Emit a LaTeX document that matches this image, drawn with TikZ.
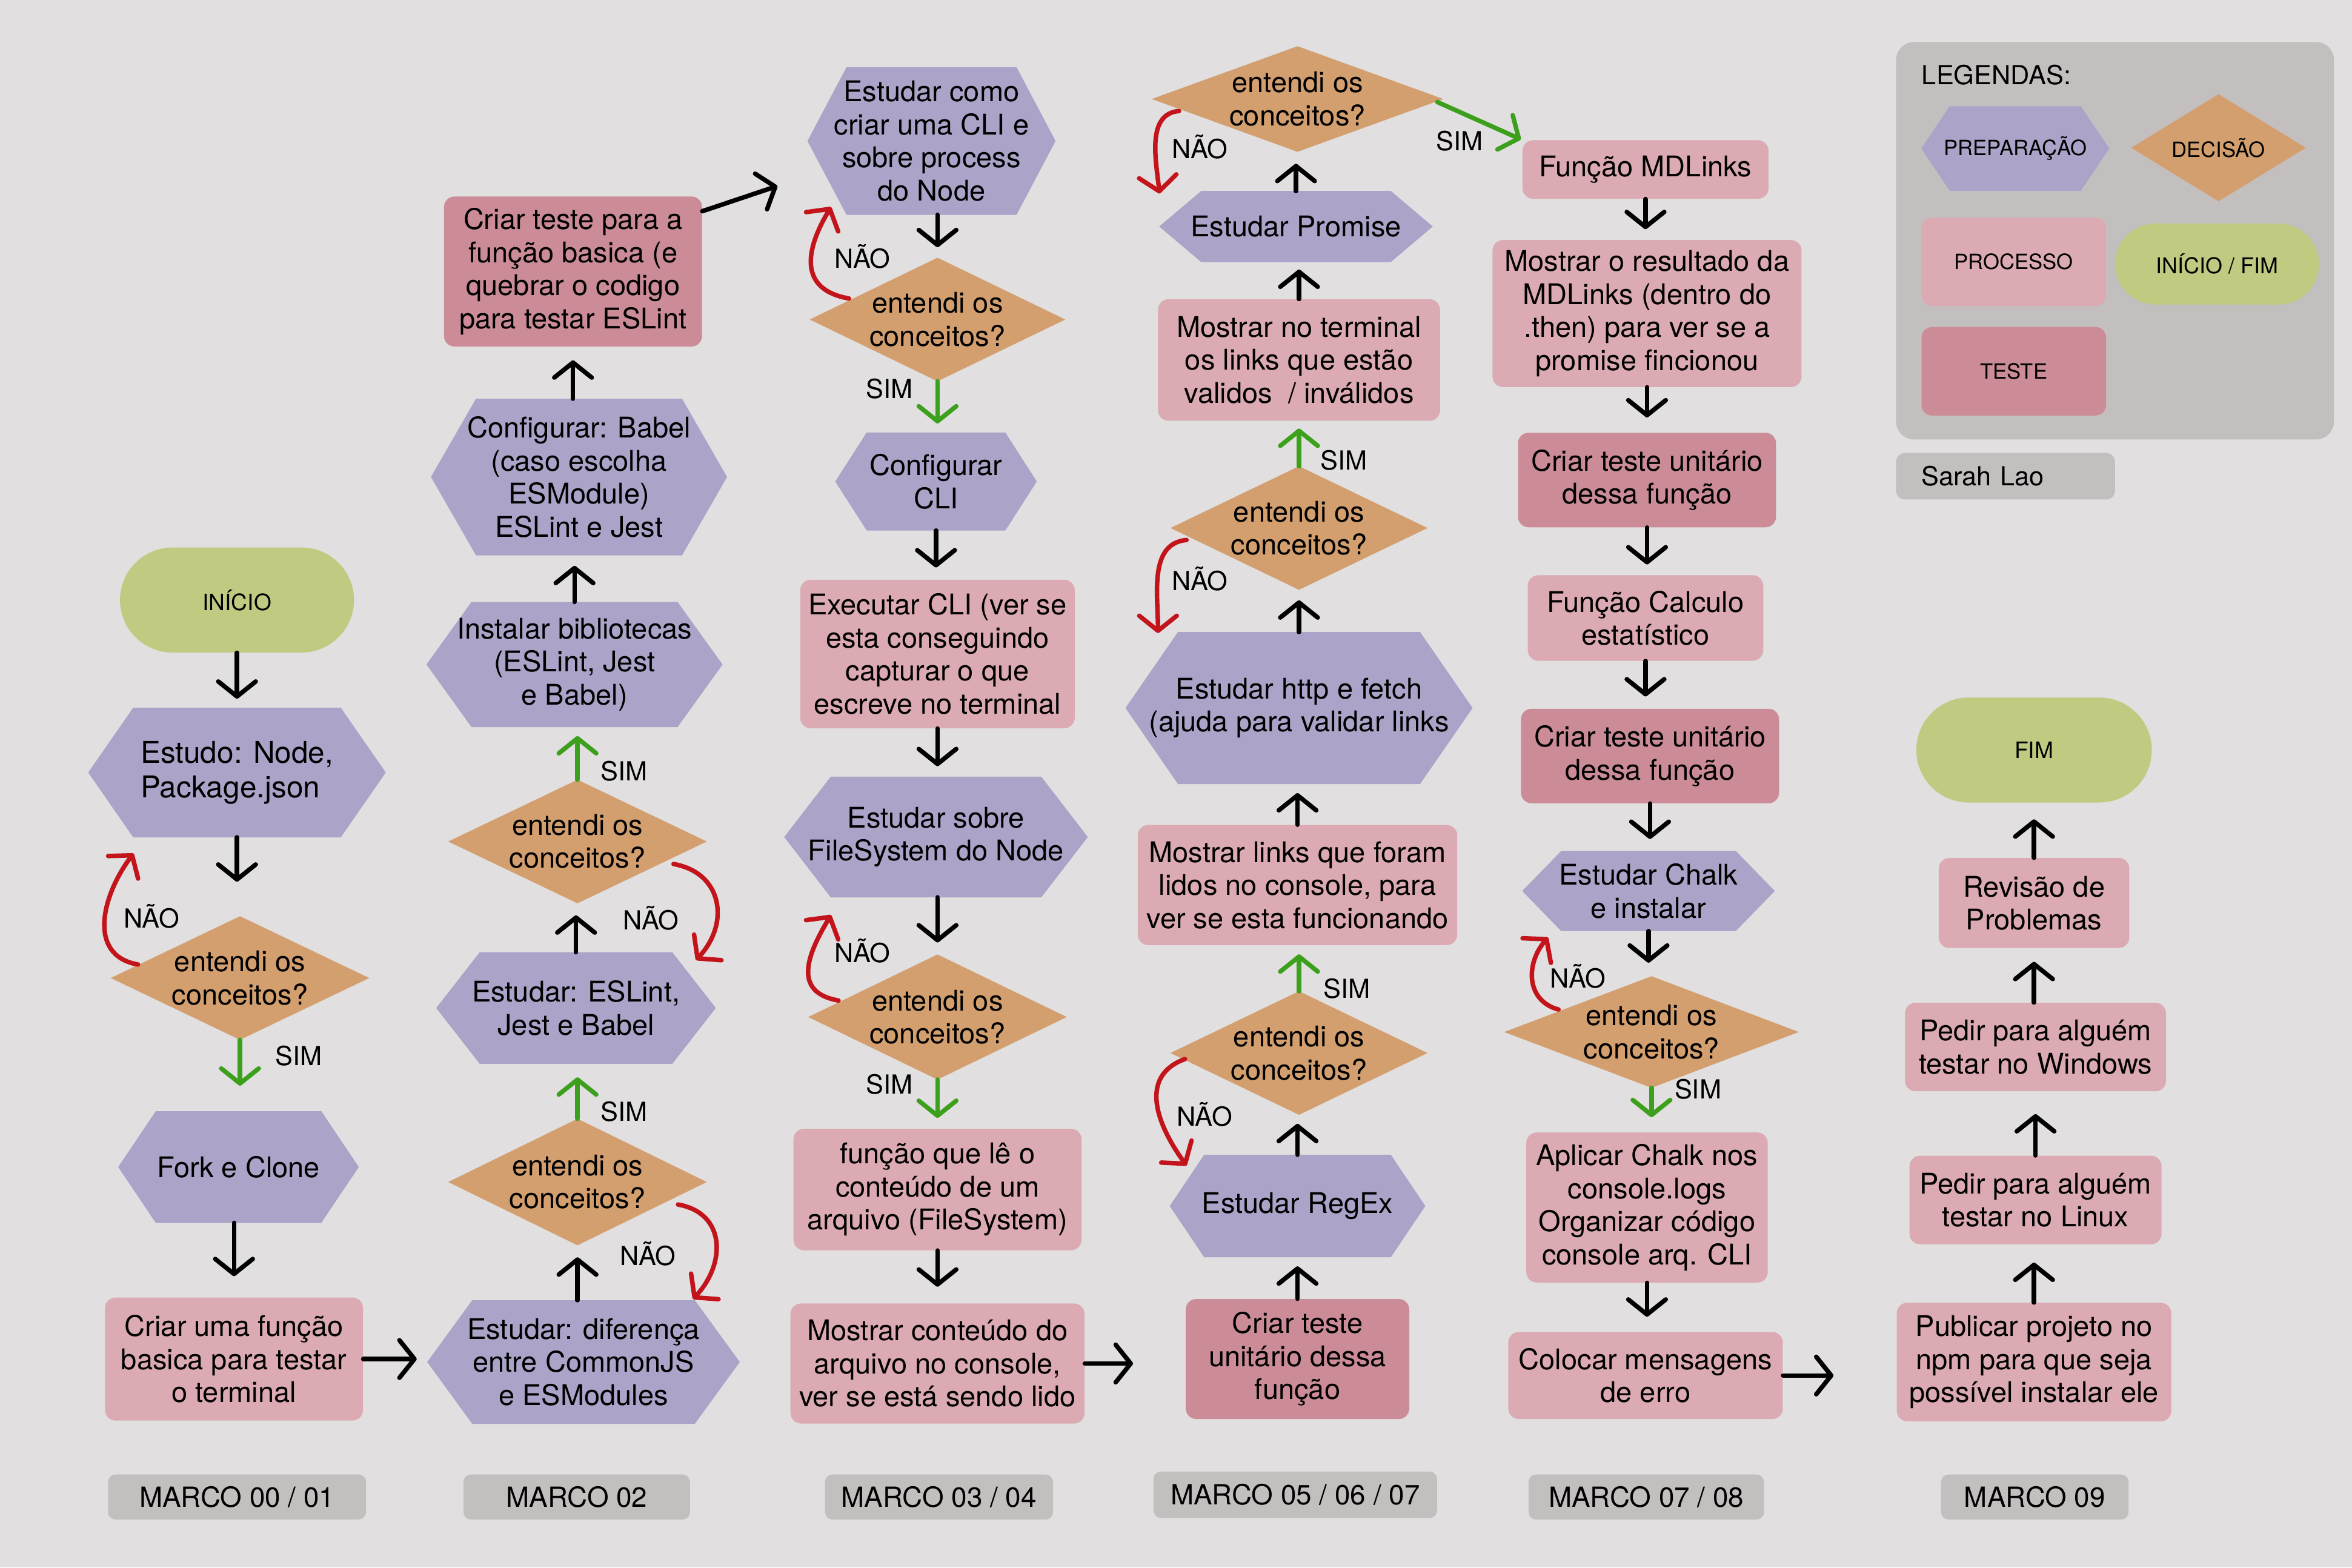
\documentclass[tikz,border=0pt]{standalone}
\usepackage{fontspec}
\setmainfont{TeX Gyre Heros}
\usetikzlibrary{arrows.meta,calc}
\definecolor{fundo}{HTML}{E1DFE0}
\definecolor{prepcor}{HTML}{ABA3C8}
\definecolor{deccor}{HTML}{D39F6F}
\definecolor{proccor}{HTML}{DBAAB2}
\definecolor{testecor}{HTML}{CB8C97}
\definecolor{iniciocor}{HTML}{C0CA81}
\definecolor{legcor}{HTML}{C4BFBF}
\definecolor{simcor}{HTML}{3CA01C}
\definecolor{naocor}{HTML}{C2141A}
\pgfdeclarelayer{background}
\pgfsetlayers{background,main}

\begin{document}
\begin{tikzpicture}[x=1pt,y=1pt,
   every node/.style={align=center,inner sep=0pt,font=\fontsize{19}{22}\selectfont},
   wh/.style 2 args={minimum width=#1pt,minimum height=#2pt},
   miuda/.style={font=\fontsize{14}{17}\selectfont},
   lbl/.style={font=\fontsize{17.5}{20}\selectfont},
   prep/.style={},
   dec/.style={},
   proc/.style={fill=proccor,rounded corners=7pt},
   teste/.style={fill=testecor,rounded corners=7pt},
   inicio/.style={fill=iniciocor,rounded corners=35pt,font=\fontsize{15}{18}\selectfont},
   legbox/.style={fill=legcor,rounded corners=12pt},
   marco/.style={fill=legcor,rounded corners=5pt,font=\fontsize{18.5}{20}\selectfont},
   arr/.style={line width=3pt,line cap=round,-{Straight Barb[length=10pt,width=25pt,round]}},
   gap/.style={shorten >=#1pt},
   nao/.style={arr,naocor}]
\useasboundingbox (0,0) rectangle (1568,-1045);

% marco 00 / 01
\node[inicio, wh={156}{70}] (inicio) at (158,-400) {INÍCIO};
\node[prep, wh={198}{86}, align=left, font=\fontsize{20}{23}\selectfont] (estudo) at (158,-515) {Estudo: Node,\\Package.json};
\node[dec, wh={172}{82}] (d1) at (160,-652) {entendi os\\conceitos?};
\node[prep, wh={160}{74}] (fork) at (159,-778) {Fork e Clone};
\node[proc, wh={172}{82}] (funcbase) at (156,-906) {Criar uma função\\basica para testar\\o terminal};

% marco 02
\node[prep, wh={208}{82}] (difer) at (389,-908) {Estudar: diferença\\entre CommonJS\\e ESModules};
\node[dec, wh={172}{84}] (d2a) at (385,-788) {entendi os\\conceitos?};
\node[prep, wh={186}{74}] (eslint) at (384,-672) {Estudar: ESLint,\\Jest e Babel};
\node[dec, wh={172}{82}] (d2b) at (385,-561) {entendi os\\conceitos?};
\node[prep, wh={197}{83}] (instalar) at (383,-443) {Instalar bibliotecas\\(ESLint, Jest\\e Babel)};
\node[prep, wh={197}{104}] (babel) at (386,-318) {Configurar: Babel\\(caso escolha\\ESModule)\\ESLint e Jest};
\node[teste, wh={172}{100}] (testebase) at (382,-181) {Criar teste para a\\função basica (e\\quebrar o codigo\\para testar ESLint};

% marco 03 / 04
\node[prep, wh={165}{98}] (cli) at (621,-94) {Estudar como\\criar uma CLI e\\sobre process\\do Node};
\node[dec, wh={170}{82}] (d3a) at (625,-213) {entendi os\\conceitos?};
\node[prep, wh={134}{65}] (configcli) at (624,-321) {Configurar\\CLI};
\node[proc, wh={183}{99}] (execcli) at (625,-436) {Executar CLI (ver se\\esta conseguindo\\capturar o que\\escreve no terminal};
\node[prep, wh={202}{80}] (fs) at (624,-558) {Estudar sobre\\FileSystem do Node};
\node[dec, wh={172}{83}] (d3b) at (625,-678) {entendi os\\conceitos?};
\node[proc, wh={192}{81}] (lerarq) at (625,-793) {função que lê o\\conteúdo de um\\arquivo (FileSystem)};
\node[proc, wh={196}{80}] (conteudo) at (625,-909) {Mostrar conteúdo do\\arquivo no console,\\ver se está sendo lido};

% marco 05 / 06 / 07
\node[teste, wh={149}{80}] (testeregex) at (865,-906) {Criar teste\\unitário dessa\\função};
\node[prep, wh={170}{68}] (regex) at (865,-804) {Estudar RegEx};
\node[dec, wh={171}{82}] (d4c) at (866,-702) {entendi os\\conceitos?};
\node[proc, wh={213}{80}] (links) at (865,-590) {Mostrar links que foram\\lidos no console, para\\ver se esta funcionando};
\node[prep, wh={231}{101}] (http) at (866,-472) {Estudar http e fetch\\(ajuda para validar links};
\node[dec, wh={171}{82}] (d4b) at (866,-352) {entendi os\\conceitos?};
\node[proc, wh={188}{81}] (validos) at (866,-240) {Mostrar no terminal\\os links que estão\\validos\ \ / inválidos};
\node[prep, wh={182}{47}] (promise) at (864,-151) {Estudar Promise};
\node[dec, wh={194}{70}] (d4a) at (865,-66) {entendi os\\conceitos?};

% marco 07 / 08
\node[proc, wh={164}{39}] (mdlinks) at (1097,-113) {Função MDLinks};
\node[proc, wh={206}{98}] (resultado) at (1098,-209) {Mostrar o resultado da\\MDLinks (dentro do\\.then) para ver se a\\promise fincionou};
\node[teste, wh={172}{63}] (testemd) at (1098,-320) {Criar teste unitário\\dessa função};
\node[proc, wh={157}{57}] (calculo) at (1097,-412) {Função Calculo\\estatístico};
\node[teste, wh={172}{63}] (testecalc) at (1100,-504) {Criar teste unitário\\dessa função};
\node[prep, wh={168}{53}] (chalk) at (1099,-594) {Estudar Chalk\\e instalar};
\node[dec, wh={196}{74}] (d5) at (1101,-688) {entendi os\\conceitos?};
\node[proc, wh={161}{100}] (aplicar) at (1098,-805) {Aplicar Chalk nos\\console.logs\\Organizar código\\console arq. CLI};
\node[proc, wh={183}{58}] (erro) at (1097,-917) {Colocar mensagens\\de erro};

% marco 09
\node[inicio, wh={157}{70}] (fim) at (1356,-500) {FIM};
\node[proc, wh={127}{60}] (revisao) at (1356,-602) {Revisão de\\Problemas};
\node[proc, wh={174}{59}] (windows) at (1357,-698) {Pedir para alguém\\testar no Windows};
\node[proc, wh={168}{59}] (linux) at (1357,-800) {Pedir para alguém\\testar no Linux};
\node[proc, wh={183}{79}] (publicar) at (1356,-908) {Publicar projeto no\\npm para que seja\\possível instalar ele};

% legendas
\node[lbl, anchor=west] (legtitulo) at (1281,-50) {LEGENDAS:};
\node[prep, miuda, wh={125}{56}] (lprep) at (1343.5,-99) {PREPARAÇÃO};
\node[dec, miuda, wh={116}{71}] (ldec) at (1479,-98.5) {DECISÃO};
\node[proc, miuda, wh={123}{59}] (lproc) at (1342.5,-174.5) {PROCESSO};
\node[inicio, miuda, wh={136}{54}, rounded corners=27pt, font=\fontsize{14.5}{17}\selectfont] (linicio) at (1478,-176) {INÍCIO / FIM};
\node[teste, miuda, wh={123}{59}] (lteste) at (1342.5,-247.5) {TESTE};
\node[legbox, lbl, rounded corners=6pt, text width=112pt, align=left, inner xsep=17pt, minimum height=31pt] (autora) at (1337,-317.5) {Sarah Lao};

\node[marco, wh={172}{30}] (marco1) at (158,-998) {MARCO 00 / 01};
\node[marco, wh={151}{30}] (marco2) at (384.5,-998) {MARCO 02};
\node[marco, wh={152}{30}] (marco3) at (626,-998) {MARCO 03 / 04};
\node[marco, wh={189}{31}] (marco4) at (863.5,-996.5) {MARCO 05 / 06 / 07};
\node[marco, wh={157}{30}] (marco5) at (1097.5,-998) {MARCO 07 / 08};
\node[marco, wh={125}{30}] (marco6) at (1356.5,-998) {MARCO 09};

% setas pretas
\draw[arr, gap=6] (inicio.south) -- (inicio.south |- estudo.north);
\draw[arr, gap=23] (estudo.south) -- (estudo.south |- d1.north);
\draw[arr, gap=14] (fork.south -| funcbase.north) -- (funcbase.north);
\draw[arr, gap=7] (funcbase.east) -- (funcbase.east -| difer.west);
\draw[arr, gap=8] (d2a.south |- difer.north) -- (d2a.south);
\draw[arr, gap=8] (eslint.north) -- (eslint.north |- d2b.south);
\draw[arr, gap=7] (instalar.north) -- (instalar.north |- babel.south);
\draw[arr, gap=9] (babel.north -| testebase.south) -- (testebase.south);
\draw[arr] ($(testebase.north east)+(0,-10)$) -- ($(cli.west)+(-20,-30)$);
\draw[arr, gap=7] (cli.south -| d3a.north) -- (d3a.north);
\draw[arr, gap=8] (configcli.south) -- (configcli.south |- execcli.north);
\draw[arr, gap=7] (execcli.south) -- (execcli.south |- fs.north);
\draw[arr, gap=8] (fs.south -| d3b.north) -- (d3b.north);
\draw[arr, gap=11] (lerarq.south) -- (lerarq.south |- conteudo.north);
\draw[arr, gap=35] (conteudo.east) -- (conteudo.east -| testeregex.west);
\draw[arr, gap=6] (testeregex.north) -- (testeregex.north |- regex.south);
\draw[arr, gap=6] (regex.north) -- (regex.north |- d4c.south);
\draw[arr, gap=6] (links.north) -- (links.north |- http.south);
\draw[arr, gap=7] (http.north) -- (http.north |- d4b.south);
\draw[arr, gap=5] (validos.north) -- (validos.north |- promise.south);
\draw[arr, gap=8] (promise.north) -- (promise.north |- d4a.south);
\draw[arr, gap=7] (mdlinks.south) -- (mdlinks.south |- resultado.north);
\draw[arr, gap=10] (resultado.south) -- (resultado.south |- testemd.north);
\draw[arr, gap=7] (testemd.south) -- (testemd.south |- calculo.north);
\draw[arr, gap=8] (calculo.south) -- (calculo.south |- testecalc.north);
\draw[arr, gap=8] (testecalc.south) -- (testecalc.south |- chalk.north);
\draw[arr, gap=9] (chalk.south) -- (chalk.south |- d5.north);
\draw[arr, gap=10] (aplicar.south) -- (aplicar.south |- erro.north);
\draw[arr, gap=42] (erro.east) -- (erro.east -| publicar.west);
\draw[arr, gap=12] (publicar.north) -- (publicar.north |- linux.south);
\draw[arr, gap=15] (linux.north) -- (linux.north |- windows.south);
\draw[arr, gap=9] (windows.north -| revisao.south) -- (revisao.south);
\draw[arr, gap=11] (revisao.north) -- (revisao.north |- fim.south);

% SIM
\draw[arr, simcor, gap=17] (d1.south) -- (d1.south |- fork.north);
\draw[arr, simcor, gap=9] (d2a.north) -- (d2a.north |- eslint.south);
\draw[arr, simcor, gap=6] (d2b.north) -- (d2b.north |- instalar.south);
\draw[arr, simcor, gap=6] (d3a.south) -- (d3a.south |- configcli.north);
\draw[arr, simcor, gap=7] (d3b.south) -- (d3b.south |- lerarq.north);
\draw[arr, simcor, gap=6] (d4c.north) -- (d4c.north |- links.south);
\draw[arr, simcor, gap=5] (d4b.north) -- (d4b.north |- validos.south);
\draw[arr, simcor, gap=1] ($(d4a.east)+(-4,-2)$) -- (mdlinks.north west);
\draw[arr, simcor, gap=10] (d5.south) -- (d5.south |- aplicar.north);

% NAO
\draw[nao] ($(d1)+(-68,9)$) to[out=170,in=-127,looseness=1.2] ($(estudo)+(-69,-54)$);
\draw[nao] ($(d2a)+(67,-15)$) to[out=-10,in=47,looseness=1.3] ($(difer)+(73,42)$);
\draw[nao] ($(d2b)+(64,-15)$) to[out=-10,in=47,looseness=1.3] ($(eslint)+(80,32)$);
\draw[nao] ($(d3a)+(-59,14)$) to[out=170,in=-121,looseness=1.4] ($(cli)+(-67,-44)$);
\draw[nao] ($(d3b)+(-66,11)$) to[out=170,in=-121,looseness=1.4] ($(fs)+(-70,-52)$);
\draw[nao] ($(d4a)+(-79,-8)$) to[out=185,in=96] ($(promise)+(-91,22)$);
\draw[nao] ($(d4b)+(-75,-8)$) to[out=185,in=90] ($(http)+(-94,50)$);
\draw[nao] ($(d4c)+(-76,-4)$) to[out=200,in=126,looseness=1.2] ($(regex)+(-74,27)$);
\draw[nao] ($(d5)+(-62,15)$) to[out=165,in=-131,looseness=1.2] ($(chalk)+(-67,-31)$);

\node[lbl] (nao1) at (101,-611) {NÃO};
\node[lbl] (sim1) at (199,-704) {SIM};
\node[lbl] (sim2) at (416,-514) {SIM};
\node[lbl] (nao2) at (434,-612) {NÃO};
\node[lbl] (sim3) at (416,-741) {SIM};
\node[lbl] (nao3) at (432,-836) {NÃO};
\node[lbl] (nao4) at (575,-171) {NÃO};
\node[lbl] (sim4) at (593,-259) {SIM};
\node[lbl] (nao5) at (575,-634) {NÃO};
\node[lbl] (sim5) at (593,-723) {SIM};
\node[lbl] (nao6) at (800,-98) {NÃO};
\node[lbl] (sim6) at (973,-94) {SIM};
\node[lbl] (sim7) at (896,-307) {SIM};
\node[lbl] (nao7) at (800,-386) {NÃO};
\node[lbl] (sim8) at (898,-659) {SIM};
\node[lbl] (nao8) at (803,-743) {NÃO};
\node[lbl] (nao9) at (1052,-651) {NÃO};
\node[lbl] (sim9) at (1132,-726) {SIM};

\begin{pgfonlayer}{background}
  \fill[fundo] (0,0) rectangle (1568,-1045);
  \node[legbox, wh={292}{265}] (legenda) at (1410,-160.5) {};
  \foreach \n/\d in {estudo/30,fork/25,difer/30,eslint/29,instalar/30,babel/30,cli/26,configcli/21,fs/31,regex/23,http/35,promise/28,chalk/26,lprep/19}
    \fill[prepcor] (\n.west) -- ($(\n.north west)+(\d,0)$) -- ($(\n.north east)+(-\d,0)$) -- (\n.east) -- ($(\n.south east)+(-\d,0)$) -- ($(\n.south west)+(\d,0)$) -- cycle;
  \foreach \n in {d1,d2a,d2b,d3a,d3b,d4a,d4b,d4c,d5,ldec}
    \fill[deccor] (\n.west) -- (\n.north) -- (\n.east) -- (\n.south) -- cycle;
\end{pgfonlayer}
\end{tikzpicture}
\end{document}
